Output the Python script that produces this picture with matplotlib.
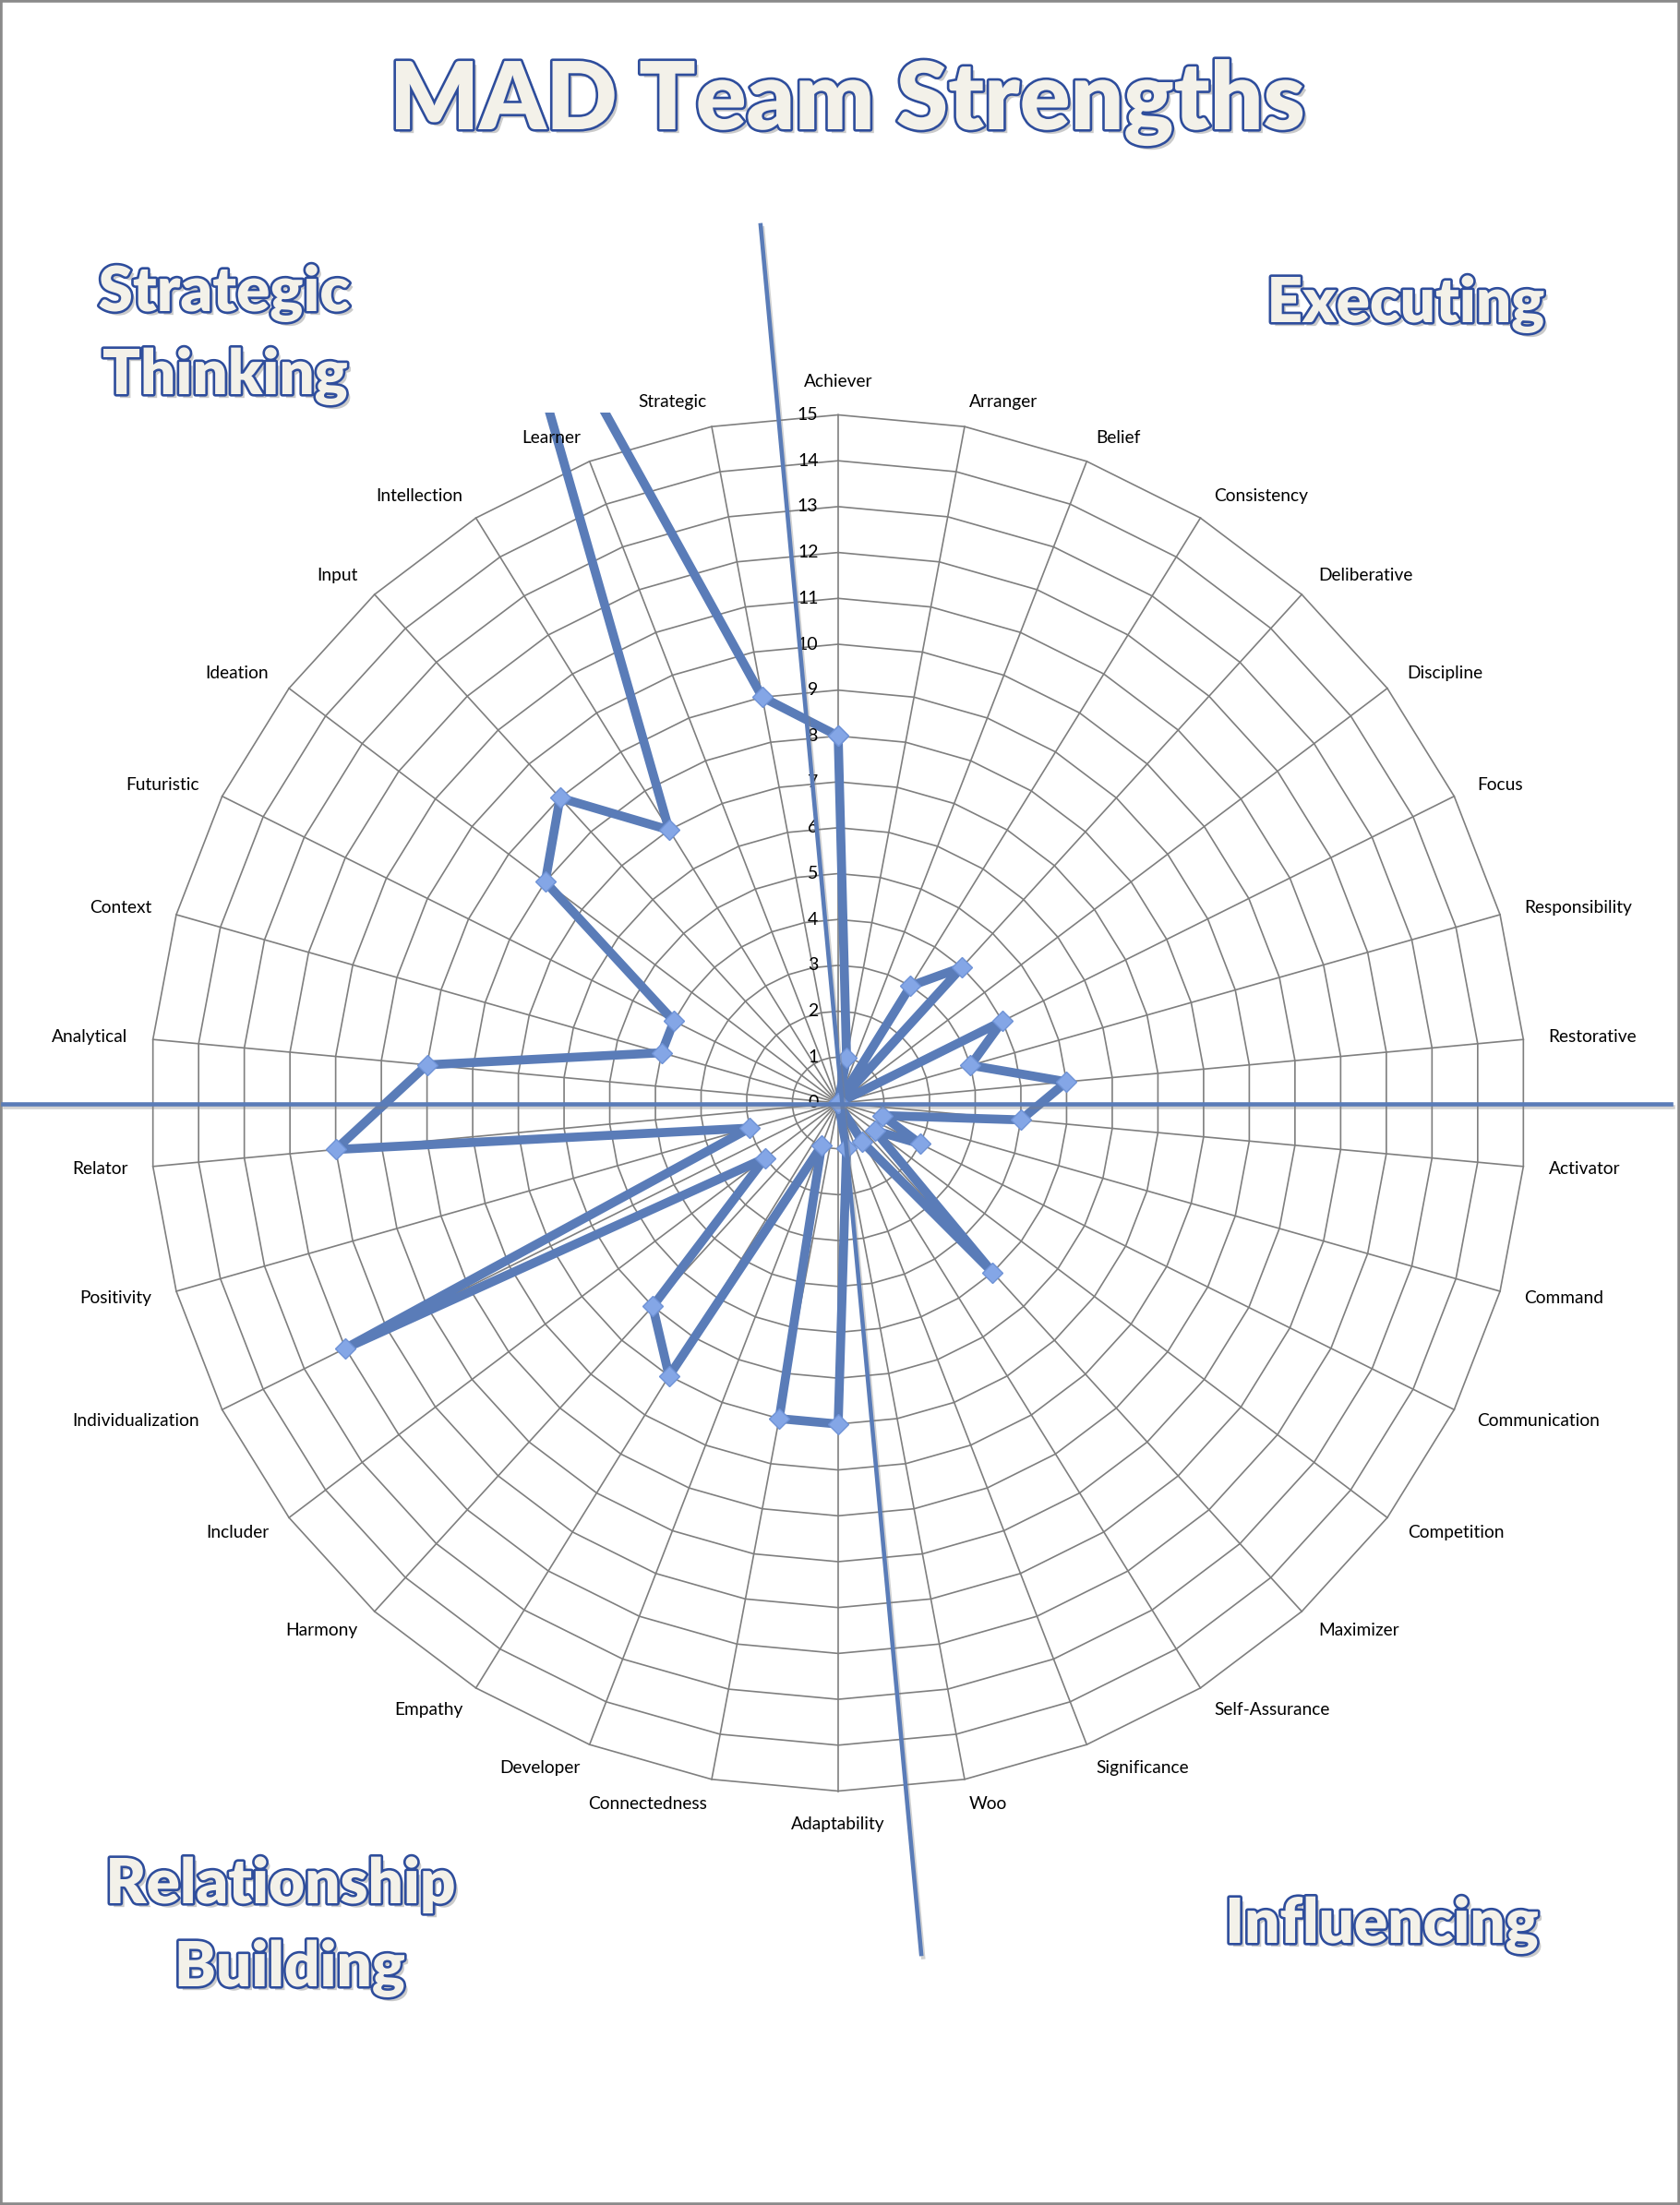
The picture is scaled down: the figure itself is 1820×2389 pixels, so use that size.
"""Radar chart of team CliftonStrengths counts, drawn Excel-style with quadrant labels."""

import numpy as np
import matplotlib
matplotlib.use("Agg")
import matplotlib.pyplot as plt
from matplotlib import patheffects as pe
from matplotlib.lines import Line2D
from matplotlib.patches import Rectangle

STRENGTHS = ["Achiever", "Arranger", "Belief", "Consistency", "Deliberative",
             "Discipline", "Focus", "Responsibility", "Restorative",
             "Activator", "Command", "Communication", "Competition",
             "Maximizer", "Self-Assurance", "Significance", "Woo",
             "Adaptability", "Connectedness", "Developer", "Empathy",
             "Harmony", "Includer", "Individualization", "Positivity",
             "Relator", "Analytical", "Context", "Futuristic", "Ideation",
             "Input", "Intellection", "Learner", "Strategic"]
COUNTS = [8, 1, 0, 3, 4, 0, 4, 3, 5, 4, 1, 2, 1, 5, 1, 0, 1,
          7, 7, 1, 7, 6, 2, 12, 2, 11, 9, 4, 4, 8, 9, 7, 21, 9]
RING_TICKS = list(range(0, 16))
TITLE = "MAD Team Strengths"
QUADRANTS = ["Strategic\nThinking", "Executing",
             "Relationship\nBuilding", "Influencing"]

W, H, DPI = 1820, 2389, 100
CX, CY, UNIT = 908, 1195, 49.7      # radar centre (px from top-left), px per count
RMAX = 16.4
BLUE = "#5A7CB8"
GRID = "#7F7F7F"
FONT = "Lato"


def fig_xy(x, y):
    return x / W, 1 - y / H


def main() -> None:
    fig = plt.figure(figsize=(W / DPI, H / DPI), dpi=DPI)
    fig.patch.set_facecolor("white")
    half = RMAX * UNIT
    ax = fig.add_axes([(CX - half) / W, (H - CY - half) / H,
                       2 * half / W, 2 * half / H], projection="polar")
    ax.set_theta_zero_location("N")
    ax.set_theta_direction(-1)
    ax.set_ylim(0, RMAX)
    ax.grid(False)
    ax.set_xticks([])
    ax.set_yticks([])
    ax.spines["polar"].set_visible(False)
    ax.patch.set_visible(False)

    n = len(STRENGTHS)
    theta = np.arange(n) * 2 * np.pi / n
    closed = np.r_[theta, theta[0]]

    # polygon grid like Excel's radar chart
    top = RING_TICKS[-1]
    for r in RING_TICKS[1:]:
        ax.plot(closed, [r] * (n + 1), color=GRID, lw=1.2, zorder=1)
    for t in theta:
        ax.plot([t, t], [0, top], color=GRID, lw=1.2, zorder=1)

    vals = np.r_[COUNTS, COUNTS[0]]
    line, = ax.plot(closed, vals, color=BLUE, lw=7.0, solid_joinstyle="round",
                    marker="D", ms=11.5, mfc="#84A6E6", mec="#6E92D6", mew=1,
                    zorder=3)
    # plot area clips at the top, not on the circle
    line.set_clip_path(Rectangle((0, 0), 1, 1 - 447 / H,
                                 transform=fig.transFigure))

    for t, name in zip(theta, STRENGTHS):
        s, c = np.sin(t), np.cos(t)
        if abs(s) < 1e-6:
            ha, va = "center", ("bottom" if c > 0 else "top")
        else:
            ha, va = ("left" if s > 0 else "right"), "center"
        ax.text(t, 15.55, name, ha=ha, va=va, fontsize=13.8, family=FONT,
                zorder=4)

    for k in RING_TICKS:
        ax.annotate(str(k), xy=(0, k), xytext=(-15.5, 0),
                    textcoords="offset points", ha="right", va="center",
                    fontsize=14, family=FONT, zorder=4)

    # quadrant divider shapes
    shadow = [pe.SimpleLineShadow(offset=(1.5, -2.5), shadow_color="gray",
                                  alpha=0.35), pe.Normal()]
    x0, y0 = fig_xy(824, 244)
    x1, y1 = fig_xy(998, 2117)
    fig.add_artist(Line2D([x0, x1], [y0, y1], transform=fig.transFigure,
                          color=BLUE, lw=3.3, path_effects=shadow, zorder=5))
    x0, y0 = fig_xy(3, 1196)
    x1, y1 = fig_xy(1810, 1196)
    fig.add_artist(Line2D([x0, x1], [y0, y1], transform=fig.transFigure,
                          color=BLUE, lw=3.3, path_effects=shadow, zorder=5))

    # word-art style text: off-white fill, blue outline, soft shadow
    renderer = fig.canvas.get_renderer()
    art = [pe.SimplePatchShadow(offset=(3, -3), shadow_rgbFace="#8a8a8a",
                                alpha=0.45),
           pe.Stroke(linewidth=3.8, foreground="#2E4D9C"), pe.Normal()]

    def word_art(s, x, y, width):
        t = fig.text(*fig_xy(x, y), s, fontsize=50, family=FONT,
                     weight="heavy", color="#F3F1E9", ha="center",
                     va="baseline", path_effects=art, zorder=6)
        return t, width / t.get_window_extent(renderer).width

    t, k = word_art(TITLE, 918, 140, 991)
    t.set_fontsize(50 * k)

    spots = [[(243, 337, 272), (244, 427, 265)],
             [(1523, 349, 297)],
             [(304, 2062, 382), (314, 2152, 250)],
             [(1497, 2105, 341)]]
    items = []
    for label, pos in zip(QUADRANTS, spots):
        for part, (x, y, w) in zip(label.split("\n"), pos):
            items.append(word_art(part, x, y, w))
    k = np.median([k for _, k in items])
    for t, _ in items:
        t.set_fontsize(50 * k)

    fig.patches.append(Rectangle((0, 0), 1, 1, transform=fig.transFigure,
                                 fill=False, edgecolor="#8A8A8A", lw=4))
    fig.savefig("out.png", dpi=DPI)


if __name__ == "__main__":
    main()
